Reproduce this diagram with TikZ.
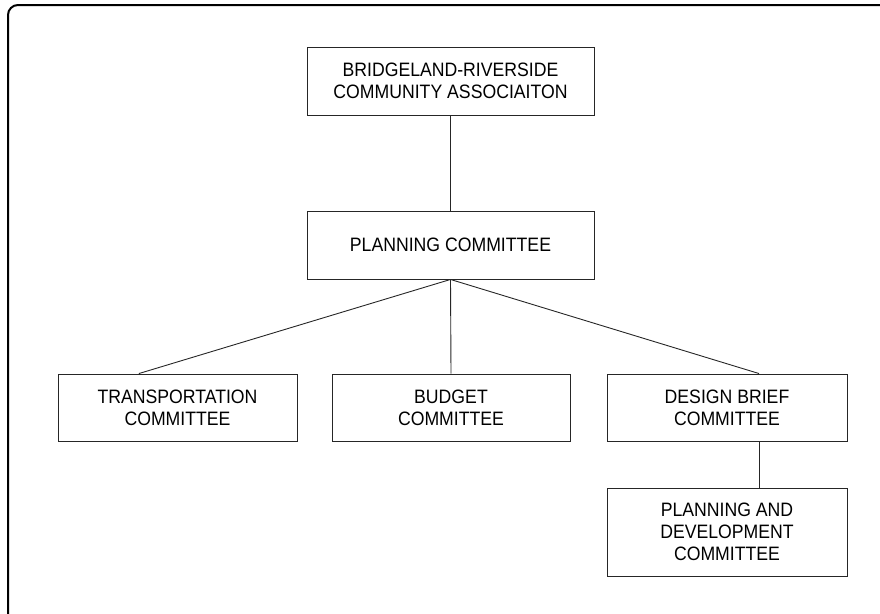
\documentclass[tikz,border=0pt]{standalone}
\usepackage{fontspec}
\setmainfont{Liberation Sans}[FakeStretch=0.91]
\usetikzlibrary{calc}
\begin{document}
\begin{tikzpicture}[x=1pt,y=-1pt,
  box/.style={draw=black!85,line width=0.9pt,fill=white,inner sep=0pt,align=center,
    font=\fontsize{19.4}{21.7}\selectfont},
  link/.style={draw=black!85,line width=0.9pt}]
\useasboundingbox (0,0) rectangle (880,613);
\clip (0,0) rectangle (880,613);
\draw[line width=2pt,rounded corners=10pt] (8,5) rectangle (890,625);
\node[box,minimum width=287pt,minimum height=68pt] (top) at (450.5,81) {BRIDGELAND-RIVERSIDE\\COMMUNITY ASSOCIAITON};
\node[box,minimum width=287pt,minimum height=68pt] (plan) at (450.5,245) {PLANNING COMMITTEE};
\node[box,minimum width=239pt,minimum height=67pt] (trans) at (177.5,407.5) {TRANSPORTATION\\COMMITTEE};
\node[box,minimum width=238pt,minimum height=67pt] (budget) at (451,407.5) {BUDGET\\COMMITTEE};
\node[box,minimum width=240pt,minimum height=67pt] (design) at (727,407.5) {DESIGN BRIEF\\COMMITTEE};
\node[box,minimum width=240pt,minimum height=88pt] (pdc) at (727,532) {PLANNING AND\\DEVELOPMENT\\COMMITTEE};
\coordinate (tin) at ($(trans.north west)!0.339!(trans.north east)$);
\coordinate (din) at ($(design.north west)!0.633!(design.north east)$);
\coordinate (dout) at ($(design.south west)!0.633!(design.south east)$);
\draw[link] (top.south) -- (plan.north);
\draw[link] (plan.south) -- (tin);
\draw[link] (plan.south) -- (budget.north);
\draw[link] (plan.south) -- (din);
\draw[link] (dout) -- (dout |- pdc.north);
\end{tikzpicture}
\end{document}
